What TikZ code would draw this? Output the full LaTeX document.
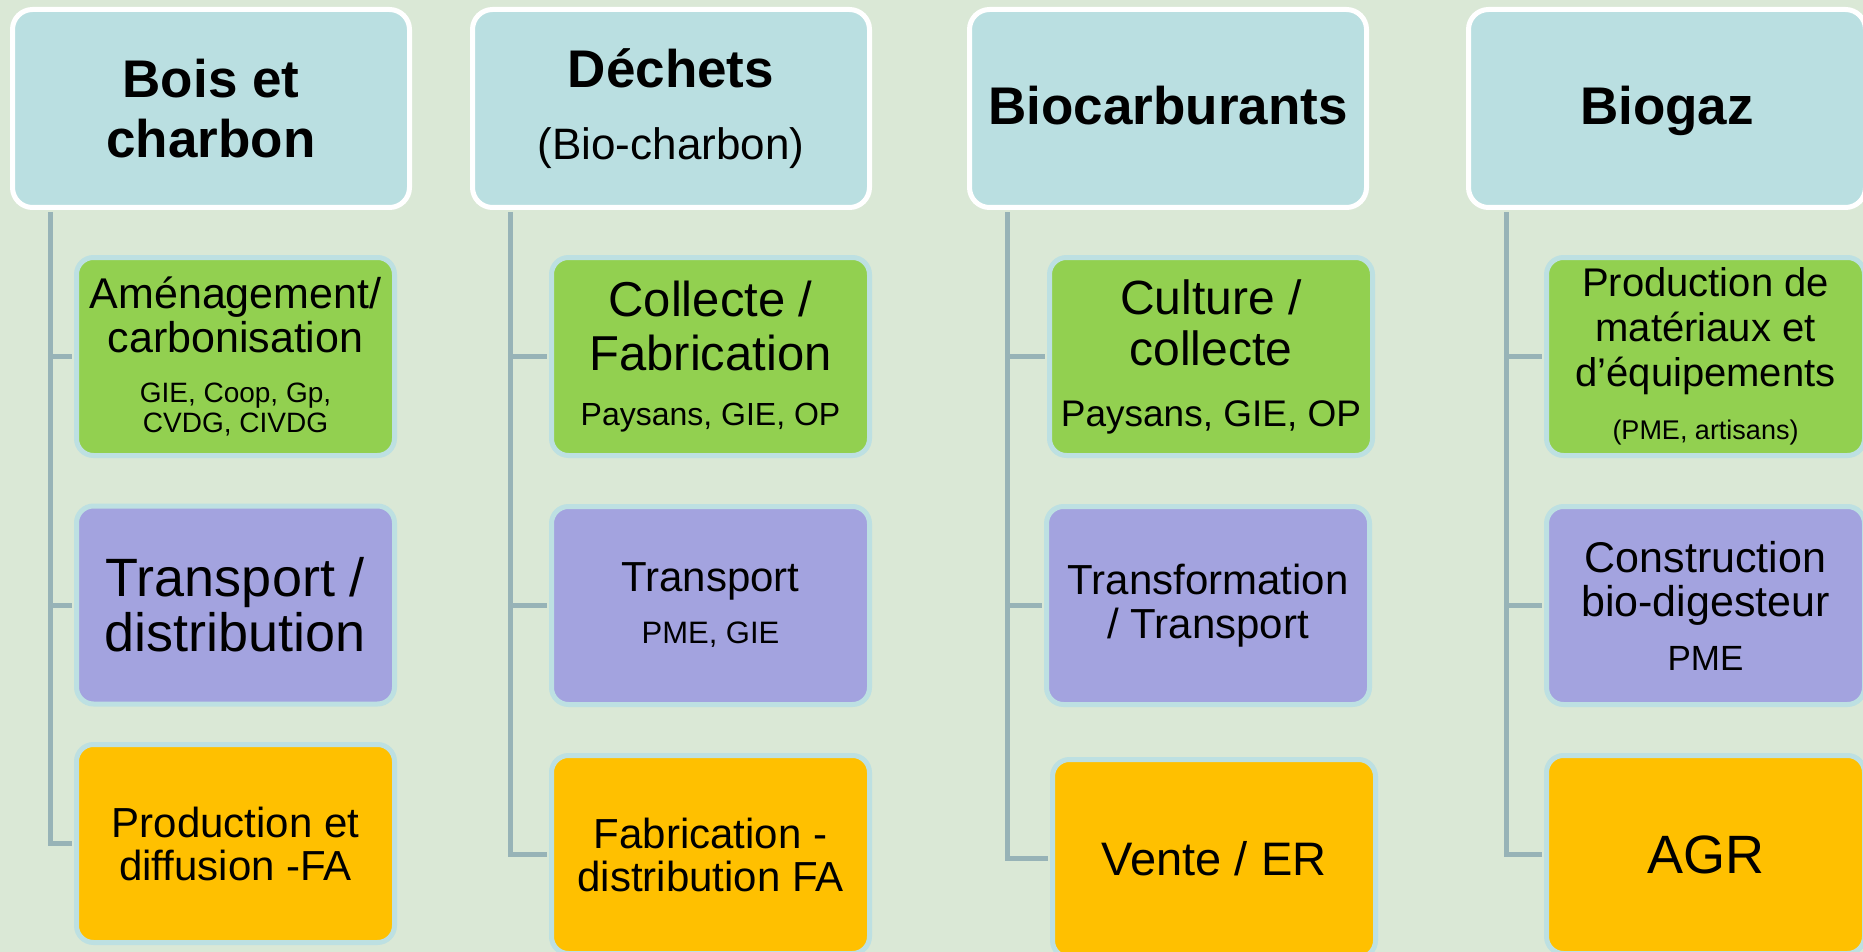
\documentclass[tikz,border=0pt]{standalone}
\usepackage{fontspec}
\setmainfont{Liberation Sans}
\usepackage{tikz}

\newcommand{\txtsize}[2]{\fontsize{#1}{#2}\selectfont}

\definecolor{fond}{HTML}{DAE8D6}
\definecolor{tete}{HTML}{BADFE1}
\definecolor{bord}{HTML}{BDE0E2}
\definecolor{vert}{HTML}{92D050}
\definecolor{mauve}{HTML}{A3A3DF}
\definecolor{orange}{HTML}{FFC000}
\definecolor{trait}{HTML}{97B3B7}

\begin{document}
\begin{tikzpicture}[x=1pt,y=-1pt,
    tete/.style={draw=white, line width=5pt, fill=tete, rounded corners=20pt,
      minimum width=397pt, minimum height=198pt, inner sep=0pt, align=center},
    case/.style={draw=bord, line width=5pt, rounded corners=17pt,
      minimum width=318pt, minimum height=198pt, inner sep=0pt, align=center},
    verte/.style={case, fill=vert},
    violette/.style={case, fill=mauve},
    jaune/.style={case, fill=orange},
    lien/.style={draw=trait, line width=5pt, shorten <=2.5pt, shorten >=2.5pt}]
	\useasboundingbox (0,0) rectangle (1863,952);
	\clip (0,0) rectangle (1863,952);
	\fill[fond] (0,0) rectangle (1863,952);

	% en-tetes
	\node[tete, font=\bfseries\txtsize{53}{60}] (h1) at (211,108.5) {Bois et\\charbon};
	\node[tete, font=\bfseries\txtsize{53}{60}] (h2) at (671,108.5) {Déchets\\[12pt]
		{\mdseries\txtsize{44}{50}(Bio-charbon)}};
	\node[tete, font=\bfseries\txtsize{53}{60}, text depth=6pt] (h3) at (1168,108.5) {Biocarburants};
	\node[tete, font=\bfseries\txtsize{53}{60}, text depth=6pt] (h4) at (1667,108.5) {Biogaz};

	% bois et charbon
	\node[verte, font=\txtsize{43}{44}] (l11) at (235.5,356.5) {Aménagement/\\carbonisation\\[6pt]
		{\txtsize{28}{30}GIE, Coop, Gp,}\\[-14pt]{\txtsize{28}{30}CVDG, CIVDG}};
	\node[violette, font=\txtsize{54}{55}] (l12) at (235.5,605) {Transport /\\distribution};
	\node[jaune, font=\txtsize{42}{43}] (l13) at (235.5,843.5) {Production et\\diffusion -FA};

	% dechets
	\node[verte, font=\txtsize{49}{54}] (l21) at (710.5,356.5) {Collecte /\\Fabrication\\[1pt]
		{\txtsize{32}{36}Paysans, GIE, OP}};
	\node[violette, font=\txtsize{42}{44}] (l22) at (710.5,605.5) {Transport\\[8pt]
		{\txtsize{31}{36}PME, GIE}};
	\node[jaune, font=\txtsize{42}{43}] (l23) at (710.5,854.5) {Fabrication -\\distribution FA};

	% biocarburants
	\node[verte, minimum width=323pt, font=\txtsize{48}{51}] (l31) at (1211,356.5) {Culture /\\collecte\\[10pt]
		{\txtsize{37}{40}Paysans, GIE, OP}};
	\node[violette, minimum width=323pt, font=\txtsize{42}{44}] (l32) at (1208,605.5) {Transformation\\/ Transport};
	\node[jaune, minimum width=323pt, font=\txtsize{47}{50}] (l33) at (1214,858.5) {Vente / ER};

	% biogaz
	\node[verte, font=\txtsize{40}{45}] (l41) at (1705.5,356.5) {Production de\\matériaux et\\d’équipements\\[8pt]
		{\txtsize{27}{30}(PME, artisans)}};
	\node[violette, font=\txtsize{43}{44}] (l42) at (1705.5,605.5) {Construction\\bio-digesteur\\[10pt]
		{\txtsize{35}{40}PME}};
	\node[jaune, font=\txtsize{54}{55}] (l43) at (1705.5,854.5) {AGR};

	\foreach \c in {1,...,4}
		\foreach \r in {1,2,3}
			\draw[lien] ([xshift=40pt]h\c.south west) |- (l\c\r.west);
\end{tikzpicture}
\end{document}
